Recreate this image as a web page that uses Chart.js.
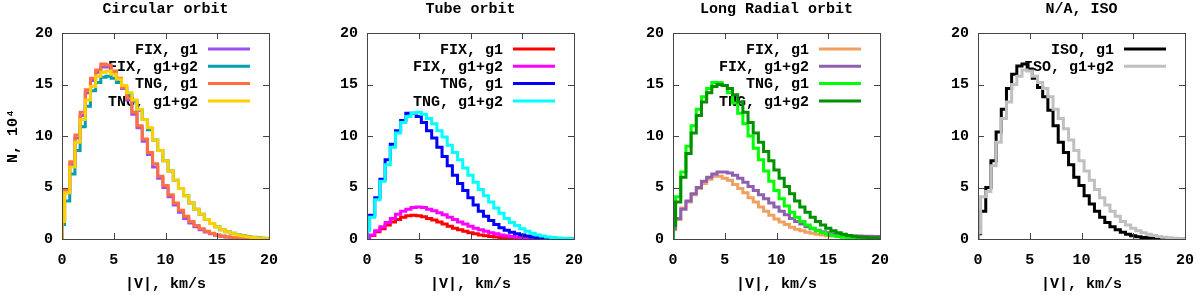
<!DOCTYPE html>
<html><head><meta charset="utf-8">
<script src="https://cdn.jsdelivr.net/npm/chart.js@4.4.1/dist/chart.umd.min.js"></script>
<style>
html,body{margin:0;padding:0;background:#fff;width:1200px;height:295px;overflow:hidden;position:relative}
.p{position:absolute;top:0;width:331px;height:295px}
</style></head><body>
<div class="p" style="left:0px"><canvas id="c0" width="331" height="295"></canvas></div>
<div class="p" style="left:305px"><canvas id="c1" width="331" height="295"></canvas></div>
<div class="p" style="left:611px"><canvas id="c2" width="331" height="295"></canvas></div>
<div class="p" style="left:916px"><canvas id="c3" width="331" height="295"></canvas></div>
<script>
// Bin centres, km/s
const vel = [0,0.5,1,1.5,2,2.5,3,3.5,4,4.5,5,5.5,6,6.5,7,7.5,8,8.5,9,9.5,10,10.5,11,11.5,12,12.5,13,13.5,14,14.5,15,15.5,16,16.5,17,17.5,18,18.5,19,19.5,20];
const xTicks = [0,5,10,15,20];
const yTicks = [0,5,10,15,20];
const panelTitles = ['Circular orbit','Tube orbit','Long Radial orbit','N/A, ISO'];
const xTitle = '|V|, km/s';
const yTitle = 'N, 10\u2074';

// Circular orbit
const circFixG1   = [1.8,4.5,7.2,9.8,12.0,14.2,15.4,16.2,16.7,16.7,16.2,15.5,14.6,13.5,12.1,10.8,9.5,8.2,7.0,5.9,5.0,4.1,3.3,2.6,2.0,1.55,1.2,0.9,0.68,0.5,0.37,0.27,0.19,0.13,0.09,0.06,0.04,0.03,0.02,0.01,0.0];
const circFixG12  = [1.4,3.7,6.3,8.6,10.9,12.9,14.4,15.2,15.7,15.8,15.6,15.2,14.7,14.0,13.4,12.5,11.6,10.6,9.6,8.6,7.6,6.6,5.7,4.9,4.2,3.5,2.9,2.4,1.9,1.5,1.2,0.9,0.7,0.55,0.42,0.32,0.24,0.17,0.11,0.07,0.04];
const circTngG1   = [2.0,4.8,7.5,10.1,12.3,14.5,15.6,16.4,17.0,16.9,16.3,15.6,14.7,13.7,12.3,11.0,9.7,8.4,7.3,6.1,5.2,4.3,3.5,2.8,2.2,1.7,1.3,1.0,0.75,0.55,0.4,0.3,0.2,0.15,0.1,0.07,0.05,0.03,0.02,0.01,0.0];
const circTngG12  = [1.7,4.5,7.0,9.4,11.6,13.5,14.8,15.8,16.2,16.3,16.0,15.5,14.9,14.2,13.5,12.6,11.6,10.8,9.6,8.6,7.6,6.6,5.7,4.9,4.2,3.5,2.9,2.4,1.9,1.5,1.2,0.9,0.7,0.55,0.4,0.3,0.22,0.15,0.1,0.06,0.03];

// Tube orbit
const tubeFixG1   = [0.1,0.35,0.7,1.0,1.35,1.65,1.9,2.1,2.25,2.3,2.25,2.15,2.0,1.85,1.65,1.45,1.25,1.05,0.9,0.75,0.6,0.5,0.4,0.32,0.25,0.2,0.15,0.12,0.09,0.07,0.05,0.04,0.03,0.02,0.02,0.01,0.01,0.01,0.0,0.0,0.0];
const tubeFixG12  = [0.1,0.4,0.8,1.2,1.6,2.0,2.4,2.7,2.9,3.05,3.1,3.05,2.9,2.75,2.55,2.35,2.1,1.9,1.65,1.45,1.25,1.05,0.9,0.75,0.6,0.5,0.4,0.32,0.25,0.2,0.15,0.12,0.09,0.07,0.05,0.04,0.03,0.02,0.015,0.01,0.01];
const tubeTngG1   = [1.0,2.3,4.0,5.8,7.7,9.2,10.5,11.5,12.2,12.2,11.9,11.3,10.5,9.8,8.9,8.0,7.1,6.2,5.4,4.7,4.0,3.3,2.7,2.2,1.8,1.4,1.1,0.85,0.65,0.5,0.38,0.28,0.2,0.14,0.1,0.07,0.05,0.03,0.02,0.01,0.01];
const tubeTngG12  = [0.8,2.1,3.8,5.6,7.2,8.9,10.3,11.3,11.9,12.2,12.3,12.1,11.7,11.2,10.5,9.9,9.1,8.4,7.7,6.9,6.2,5.5,4.8,4.2,3.6,3.0,2.5,2.0,1.6,1.3,1.0,0.75,0.55,0.4,0.3,0.2,0.14,0.1,0.07,0.05,0.03];

// Long radial orbit
const radFixG1    = [0.9,1.9,3.0,3.6,4.3,4.9,5.4,5.8,6.1,6.1,5.9,5.7,5.3,4.9,4.5,4.0,3.6,3.1,2.7,2.3,1.95,1.65,1.4,1.15,0.95,0.8,0.65,0.55,0.45,0.38,0.32,0.28,0.25,0.22,0.2,0.18,0.17,0.16,0.15,0.15,0.15];
const radFixG12   = [1.0,2.0,2.9,3.7,4.4,5.0,5.6,6.0,6.3,6.5,6.5,6.4,6.2,5.9,5.5,5.1,4.7,4.3,3.9,3.5,3.1,2.7,2.35,2.0,1.7,1.45,1.2,1.0,0.85,0.7,0.6,0.5,0.42,0.36,0.32,0.3,0.28,0.27,0.26,0.25,0.25];
const radTngG1    = [1.6,4.1,6.5,9.0,11.0,12.6,13.8,14.6,15.2,15.2,14.9,14.2,13.2,12.2,11.2,10.0,8.8,7.7,6.6,5.6,4.7,3.9,3.2,2.6,2.1,1.7,1.35,1.05,0.8,0.6,0.45,0.35,0.25,0.18,0.13,0.1,0.07,0.05,0.04,0.03,0.02];
const radTngG12   = [1.3,3.6,6.0,8.3,10.3,12.0,13.3,14.2,14.8,15.0,14.9,14.6,14.0,13.3,12.3,11.3,10.3,9.4,8.5,7.6,6.7,5.9,5.1,4.4,3.7,3.1,2.6,2.1,1.7,1.35,1.05,0.8,0.6,0.45,0.35,0.27,0.2,0.16,0.13,0.12,0.1];

// ISO
const isoG1       = [0.5,2.7,5.0,7.6,10.4,12.6,14.6,16.0,16.8,17.0,16.5,15.6,14.7,13.8,12.5,11.0,9.4,8.4,7.2,6.0,5.2,4.2,3.4,2.7,2.1,1.6,1.2,0.9,0.65,0.45,0.32,0.22,0.15,0.1,0.07,0.05,0.03,0.02,0.01,0.01,0.0];
const isoG12      = [0.6,4.1,4.6,7.1,9.4,11.7,13.3,15.0,15.8,16.4,16.3,15.8,15.2,14.6,13.8,12.6,11.7,10.7,9.6,8.6,7.6,6.6,5.7,4.8,4.0,3.3,2.7,2.2,1.7,1.35,1.05,0.8,0.6,0.45,0.33,0.24,0.17,0.12,0.08,0.05,0.03];

const panels = [
  {series:[['FIX, g1',circFixG1,'#9a50f0'],['FIX, g1+g2',circFixG12,'#00a0b0'],['TNG, g1',circTngG1,'#ff7040'],['TNG, g1+g2',circTngG12,'#ffd000']]},
  {series:[['FIX, g1',tubeFixG1,'#ff0000'],['FIX, g1+g2',tubeFixG12,'#ff00ff'],['TNG, g1',tubeTngG1,'#0000ff'],['TNG, g1+g2',tubeTngG12,'#00ffff']]},
  {series:[['FIX, g1',radFixG1,'#f0a060'],['FIX, g1+g2',radFixG12,'#9060b0'],['TNG, g1',radTngG1,'#00ff00'],['TNG, g1+g2',radTngG12,'#009000']]},
  {series:[['ISO, g1',isoG1,'#000000'],['ISO, g1+g2',isoG12,'#c0c0c0']]}
];

const FONT = '"Liberation Mono", "DejaVu Sans Mono", monospace';

const deco = {
  id: 'deco',
  beforeDatasetsDraw(chart) {
    const ctx = chart.ctx, a = chart.chartArea;
    ctx.save();
    ctx.font = 'bold 15px ' + FONT;
    ctx.textBaseline = 'middle';
    ctx.fillStyle = '#000';
    ctx.textAlign = 'center';
    ctx.fillText(chart.options.plugins.deco.title, (a.left + a.right) / 2, 9);
    ctx.textAlign = 'right';
    chart.data.datasets.forEach((ds, i) => {
      const y = a.top + 16 + 17.3 * i;
      ctx.fillStyle = '#000';
      ctx.fillText(ds.label, a.right - 71, y + 1);
      ctx.strokeStyle = ds.borderColor;
      ctx.lineWidth = 3;
      ctx.beginPath();
      ctx.moveTo(a.right - 61, y);
      ctx.lineTo(a.right - 19, y);
      ctx.stroke();
    });
    ctx.restore();
  },
  afterDatasetsDraw(chart) {
    const ctx = chart.ctx, a = chart.chartArea;
    const xs = chart.scales.x, ys = chart.scales.y;
    ctx.save();
    ctx.strokeStyle = '#444';
    ctx.lineWidth = 1;
    ctx.beginPath();
    xTicks.slice(1, -1).forEach(v => {
      const x = Math.round(xs.getPixelForValue(v)) + 0.5;
      ctx.moveTo(x, a.bottom); ctx.lineTo(x, a.bottom - 6);
      ctx.moveTo(x, a.top); ctx.lineTo(x, a.top + 6);
    });
    yTicks.slice(1, -1).forEach(v => {
      const y = Math.round(ys.getPixelForValue(v)) + 0.5;
      ctx.moveTo(a.left, y); ctx.lineTo(a.left + 6, y);
      ctx.moveTo(a.right, y); ctx.lineTo(a.right - 6, y);
    });
    ctx.stroke();
    ctx.strokeRect(Math.round(a.left) + 0.5, Math.round(a.top) + 0.5, Math.round(a.right - a.left), Math.round(a.bottom - a.top));
    ctx.restore();
  }
};

panels.forEach((p, k) => {
  const n = p.series.length;
  const datasets = p.series.map(([label, vals, color], i) => ({
    label,
    data: [{x: 0, y: 0}].concat(vel.map((v, j) => ({x: v, y: vals[j]}))),
    borderColor: color,
    backgroundColor: color,
    borderWidth: 3,
    stepped: 'middle',
    pointRadius: 0,
    fill: false,
    order: n - i
  }));
  new Chart(document.getElementById('c' + k), {
    type: 'line',
    data: {datasets},
    plugins: [deco],
    options: {
      responsive: false,
      animation: false,
      layout: {padding: {left: 0, right: 62, top: 33, bottom: 0}},
      plugins: {
        legend: {display: false},
        tooltip: {enabled: false},
        title: {display: false},
        deco: {title: panelTitles[k]}
      },
      scales: {
        x: {
          type: 'linear', min: 0, max: 20,
          afterFit: s => { s.height = 56; },
          grid: {display: false, drawTicks: false},
          border: {display: false},
          ticks: {stepSize: 5, autoSkip: false, maxRotation: 0, padding: 12, color: '#000',
            font: {family: FONT, size: 15, weight: 'bold'}},
          afterBuildTicks: s => { s.ticks = xTicks.map(v => ({value: v})); },
          title: {display: true, text: xTitle, color: '#000',
            font: {family: FONT, size: 15, weight: 'bold', lineHeight: 1.2},
            padding: {top: 2, bottom: 2}}
        },
        y: {
          type: 'linear', min: 0, max: 20,
          afterFit: s => { s.width = 62; },
          grid: {display: false, drawTicks: false},
          border: {display: false},
          ticks: {stepSize: 5, padding: 9, color: '#000',
            font: {family: FONT, size: 15, weight: 'bold'}},
          afterBuildTicks: s => { s.ticks = yTicks.map(v => ({value: v})); },
          title: {display: k === 0, text: yTitle, color: '#000',
            font: {family: FONT, size: 15, weight: 'bold', lineHeight: 1.2},
            padding: {top: 4, bottom: 0}}
        }
      }
    }
  });
});
</script>
</body></html>
